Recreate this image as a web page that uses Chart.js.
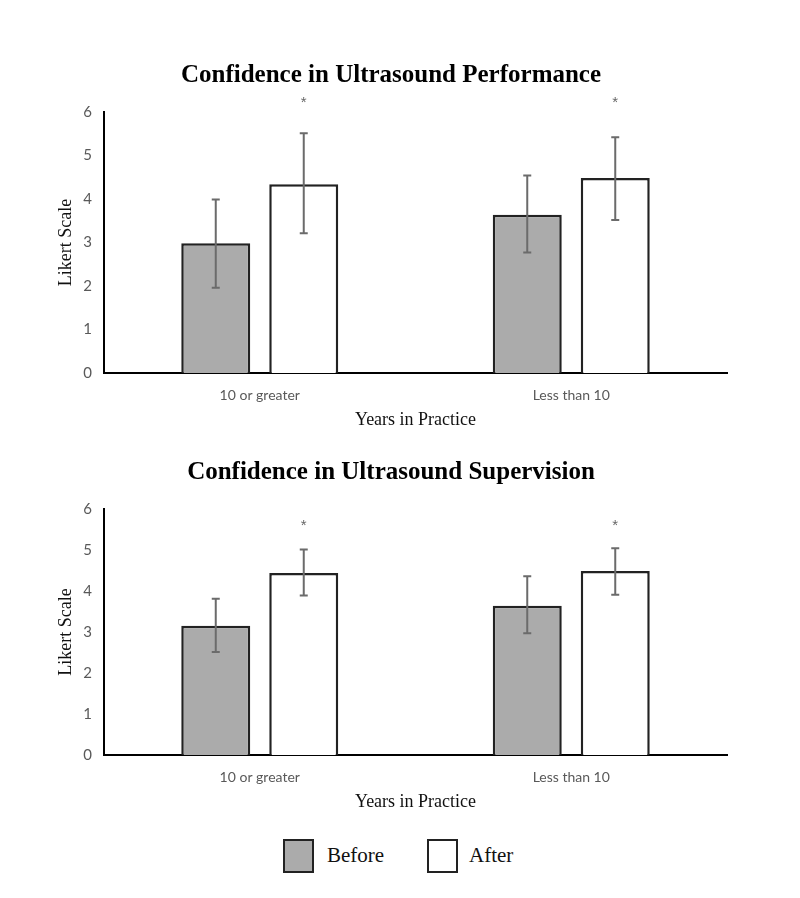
<!DOCTYPE html>
<html>
<head>
<meta charset="utf-8">
<script src="https://cdn.jsdelivr.net/npm/chart.js@4.4.1/dist/chart.umd.min.js"></script>
<style>
  body { margin: 0; background: #fff; width: 800px; height: 898px; position: relative; overflow: hidden; }
  .box { position: absolute; left: 0; width: 800px; }
  #legend { position: absolute; top: 839px; left: 0; width: 800px; height: 34px; font-family: 'Liberation Serif', serif; font-size: 21px; color: #111; }
  .sw { position: absolute; top: 0; width: 27px; height: 30px; border: 2px solid #222; }
  .lbl { position: absolute; top: 4px; }
</style>
</head>
<body>
<div class="box" style="top:40px;height:397px"><canvas id="perf"></canvas></div>
<div class="box" style="top:437px;height:382px"><canvas id="superv"></canvas></div>
<div id="legend">
  <div class="sw" style="left:283px;background:#ababab"></div><span class="lbl" style="left:327px">Before</span>
  <div class="sw" style="left:427px;background:#fff"></div><span class="lbl" style="left:469px">After</span>
</div>
<script>
// data
const categories = ['10 or greater', 'Less than 10'];
const yTicks = [0, 1, 2, 3, 4, 5, 6];

const perfBefore = [2.98, 3.64];
const perfBeforeLo = [1.96, 2.77];
const perfBeforeHi = [3.99, 4.54];
const perfAfter = [4.34, 4.48];
const perfAfterLo = [3.21, 3.52];
const perfAfterHi = [5.51, 5.42];
const perfStars = [6.28, 6.28];

const supBefore = [3.15, 3.64];
const supBeforeLo = [2.51, 2.97];
const supBeforeHi = [3.81, 4.36];
const supAfter = [4.44, 4.49];
const supAfterLo = [3.89, 3.91];
const supAfterHi = [5.01, 5.04];
const supStars = [5.65, 5.65];

// error bars + significance stars
const errorBars = {
    id: 'errorBars',
    afterDatasetsDraw(chart, args, opts) {
        const ctx = chart.ctx;
        const y = chart.scales.y;
        ctx.save();
        ctx.strokeStyle = '#6b6b6b';
        ctx.lineWidth = 2;
        chart.data.datasets.forEach((ds, di) => {
            const meta = chart.getDatasetMeta(di);
            meta.data.forEach((bar, i) => {
                const top = y.getPixelForValue(ds.hi[i]);
                const bot = y.getPixelForValue(ds.lo[i]);
                ctx.beginPath();
                ctx.moveTo(bar.x, top); ctx.lineTo(bar.x, bot);
                ctx.moveTo(bar.x - 4, top); ctx.lineTo(bar.x + 4, top);
                ctx.moveTo(bar.x - 4, bot); ctx.lineTo(bar.x + 4, bot);
                ctx.stroke();
            });
        });
        // stars over the After bars
        const after = chart.getDatasetMeta(1);
        ctx.fillStyle = '#666';
        ctx.font = '15px "Liberation Sans", sans-serif';
        ctx.textAlign = 'center';
        ctx.textBaseline = 'middle';
        opts.stars.forEach((v, i) => {
            ctx.fillText('*', after.data[i].x, y.getPixelForValue(v) + 3);
        });
        ctx.restore();
    }
};

function makeChart(id, title, before, bLo, bHi, after, aLo, aHi, stars) {
    new Chart(document.getElementById(id), {
        type: 'bar',
        data: {
            labels: categories,
            datasets: [{
                label: 'Before',
                data: before, lo: bLo, hi: bHi,
                backgroundColor: '#ababab',
                borderColor: '#222',
                borderWidth: 2.5,
                categoryPercentage: 0.565,
                barPercentage: 0.784
            }, {
                label: 'After',
                data: after, lo: aLo, hi: aHi,
                backgroundColor: '#fff',
                borderColor: '#222',
                borderWidth: 2.5,
                categoryPercentage: 0.565,
                barPercentage: 0.784
            }]
        },
        plugins: [errorBars],
        options: {
            responsive: true,
            maintainAspectRatio: false,
            animation: false,
            layout: { padding: { left: 55, right: 73, top: 0, bottom: 4 } },
            plugins: {
                legend: { display: false },
                tooltip: { enabled: false },
                errorBars: { stars: stars },
                title: {
                    display: true,
                    text: title,
                    color: '#000',
                    font: { family: 'Liberation Serif', size: 25, weight: 'bold' },
                    padding: { top: 21, bottom: 21 }
                }
            },
            scales: {
                x: {
                    grid: { display: false, drawTicks: false },
                    border: { color: '#000', width: 2 },
                    ticks: { color: '#595959', padding: 14, font: { family: 'Lato', size: 14 } },
                    title: {
                        display: true, text: 'Years in Practice', color: '#111',
                        font: { family: 'Liberation Serif', size: 18 },
                        padding: { top: 4, bottom: 2 }
                    },
                    afterFit: s => { s.height = 60; }
                },
                y: {
                    min: 0, max: 6,
                    afterBuildTicks: s => { s.ticks = yTicks.map(v => ({ value: v })); },
                    grid: { display: false, drawTicks: false },
                    border: { color: '#000', width: 2 },
                    ticks: { color: '#595959', padding: 12, font: { family: 'Lato', size: 15 } },
                    title: {
                        display: true, text: 'Likert Scale', color: '#111',
                        font: { family: 'Liberation Serif', size: 18 },
                        padding: { top: 0, bottom: 6 }
                    },
                    afterFit: s => { s.width = 49; }
                }
            }
        }
    });
}

makeChart('perf', 'Confidence in Ultrasound Performance',
    perfBefore, perfBeforeLo, perfBeforeHi, perfAfter, perfAfterLo, perfAfterHi, perfStars);
makeChart('superv', 'Confidence in Ultrasound Supervision',
    supBefore, supBeforeLo, supBeforeHi, supAfter, supAfterLo, supAfterHi, supStars);
</script>
</body>
</html>
